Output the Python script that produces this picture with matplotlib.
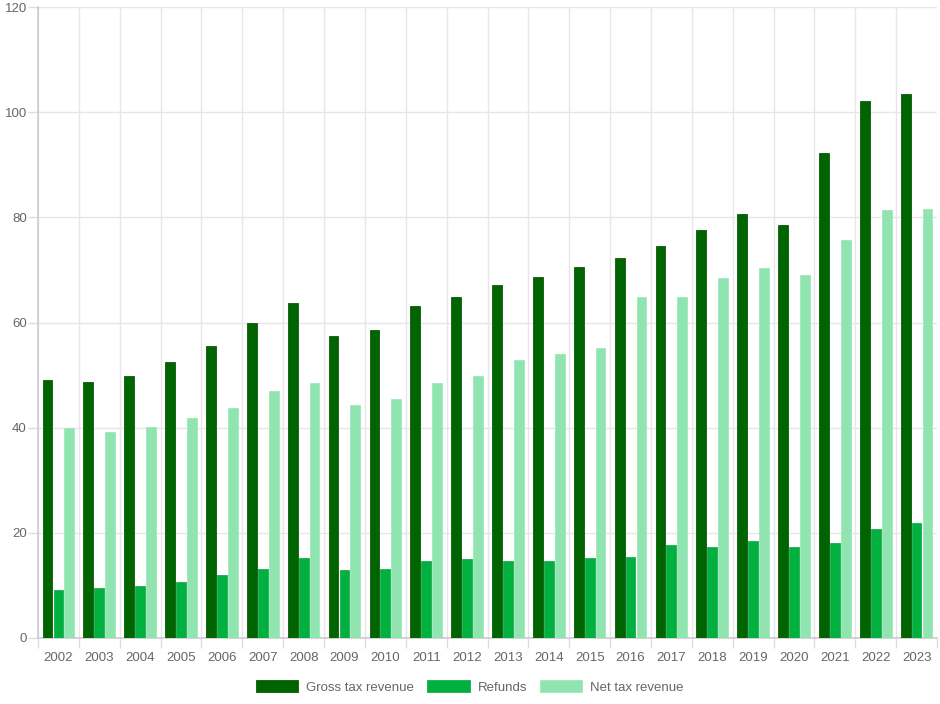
import numpy as np
import matplotlib
matplotlib.use("Agg")
import matplotlib.pyplot as plt
import matplotlib.patches as mpatches

plt.rcParams["font.family"] = ["Liberation Sans", "DejaVu Sans"]

years = [str(y) for y in range(2002, 2024)]
gross = [49.1, 48.7, 49.9, 52.4, 55.6, 60.0, 63.7, 57.5, 58.6, 63.1, 64.9,
         67.2, 68.6, 70.5, 72.2, 74.5, 77.6, 80.6, 78.5, 92.2, 102.2, 103.5]
refunds = [9.2, 9.6, 9.9, 10.6, 12.0, 13.1, 15.3, 13.0, 13.2, 14.6, 15.1,
           14.6, 14.6, 15.3, 15.4, 17.6, 17.4, 18.4, 17.3, 18.1, 20.7, 21.9]
net = [40.0, 39.2, 40.1, 41.9, 43.7, 46.9, 48.4, 44.4, 45.4, 48.5, 49.8,
       52.8, 54.0, 55.1, 64.8, 64.9, 68.5, 70.4, 69.1, 75.6, 81.4, 81.6]

series = [("Gross tax revenue", gross, "#006400", "#0b5a0b"),
          ("Refunds", refunds, "#00b140", "#1faa4f"),
          ("Net tax revenue", net, "#90e4b0", "#9ee8bb")]

fig = plt.figure(figsize=(9.4, 7.04), dpi=100)
ax = fig.add_axes([38 / 940, 1 - 638 / 704, 899 / 940, 631 / 704])

x = np.arange(len(years))
slot = 0.8 / 3
for i, (name, vals, col, edge) in enumerate(series):
    ax.bar(x - 0.4 + slot * (i + 0.5), vals, width=slot * 0.9, color=col,
           edgecolor=edge, linewidth=0.6, zorder=3)

ax.set_xlim(-0.5, len(years) - 0.5)
ax.set_ylim(0, 120)
ax.set_yticks(range(0, 121, 20))
ax.set_xticks(x)
ax.set_xticklabels(years)
ax.set_xticks(np.arange(-0.5, len(years)), minor=True)

ax.grid(axis="y", color="#e6e6e6", linewidth=1, zorder=0)
ax.grid(axis="x", which="minor", color="#e6e6e6", linewidth=1, zorder=0)
ax.tick_params(axis="x", which="major", length=0, pad=10, labelsize=9.5, labelcolor="#666666")
ax.tick_params(axis="x", which="minor", length=7, color="#dddddd", width=1)
ax.tick_params(axis="y", length=7, color="#dddddd", width=1, pad=1, labelsize=9.5,
               labelcolor="#666666")

for side in ["top", "right"]:
    ax.spines[side].set_visible(False)
for side in ["left", "bottom"]:
    ax.spines[side].set_color("#cccccc")
    ax.spines[side].set_linewidth(1.2)

handles = [mpatches.Patch(facecolor=c, edgecolor=e, linewidth=0.6, label=n)
           for n, _, c, e in series]
fig.legend(handles=handles, loc="center", bbox_to_anchor=(0.5, 1 - 687 / 704),
           ncol=3, frameon=False, fontsize=9.5, labelcolor="#666666",
           handlelength=3.2, handleheight=0.95, handletextpad=0.6, columnspacing=1.0)

fig.savefig("out.png", dpi=100)
